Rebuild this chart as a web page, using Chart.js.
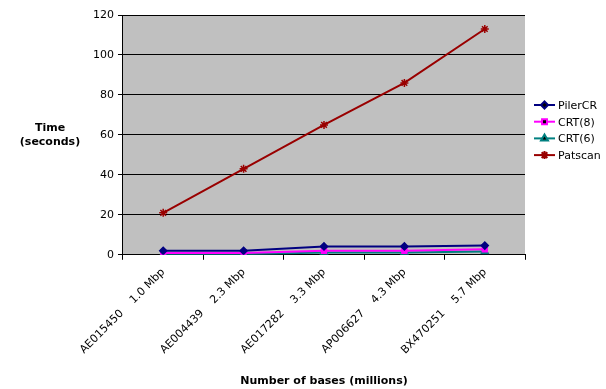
<!DOCTYPE html>
<html>
<head>
<meta charset="utf-8">
<script src="https://cdn.jsdelivr.net/npm/chart.js@4"></script>
<style>
  html, body { margin: 0; padding: 0; background: #fff; }
  #wrap { width: 606px; height: 389px; }
</style>
</head>
<body>
<div id="wrap"><canvas id="grafico" width="606" height="389"></canvas></div>
<script>
// datos
var genomas = ['AE015450    1.0 Mbp', 'AE004439    2.3 Mbp', 'AE017282    3.3 Mbp', 'AP006627    4.3 Mbp', 'BX470251    5.7 Mbp'];
var pilerCR = [2.0, 2.0, 4.2, 4.2, 4.6];
var crt8 = [0.9, 0.9, 2.0, 2.0, 2.8];
var crt6 = [0.3, 0.3, 1.2, 1.2, 1.6];
var patscan = [21, 43, 65, 86, 113];
var ticksY = [0, 20, 40, 60, 80, 100, 120];

var fuente = 'Verdana, "DejaVu Sans", sans-serif';

// fondo gris del area de trazado
var fondoPlugin = {
    id: 'fondo',
    beforeDraw: function (chart) {
        var a = chart.chartArea;
        var ctx = chart.ctx;
        ctx.save();
        ctx.fillStyle = '#c0c0c0';
        ctx.fillRect(a.left, a.top, a.right - a.left, a.bottom - a.top);
        ctx.restore();
    }
};

// titulo del eje y horizontal y leyenda con linea + marcador
var textosPlugin = {
    id: 'textos',
    afterDraw: function (chart) {
        var ctx = chart.ctx;
        var a = chart.chartArea;
        ctx.save();
        ctx.fillStyle = '#000';
        ctx.font = 'bold 11px ' + fuente;
        ctx.textAlign = 'center';
        ctx.textBaseline = 'middle';
        ctx.fillText('Time', 50, 128);
        ctx.fillText('(seconds)', 50, 142);

        // leyenda
        var x0 = a.right + 9;
        var y0 = 105;
        chart.data.datasets.forEach(function (ds, i) {
            var y = y0 + i * 16.7;
            ctx.strokeStyle = ds.borderColor;
            ctx.lineWidth = 2;
            ctx.beginPath();
            ctx.moveTo(x0, y);
            ctx.lineTo(x0 + 21, y);
            ctx.stroke();
            Chart.helpers.drawPoint(ctx, {
                pointStyle: ds.pointStyle,
                radius: ds.pointRadius,
                borderWidth: 1.5
            }, x0 + 10.5, y);
            ctx.fillStyle = '#000';
            ctx.font = '11px ' + fuente;
            ctx.textAlign = 'left';
            ctx.fillText(ds.label, x0 + 24, y + 1);
        });
        ctx.restore();
    }
};

function serie(label, data, color, estilo, radio) {
    return {
        label: label,
        data: data,
        borderColor: color,
        backgroundColor: color,
        pointBackgroundColor: color,
        pointBorderColor: color,
        pointStyle: estilo,
        pointRadius: radio,
        pointBorderWidth: 1.5,
        borderWidth: 2,
        fill: false,
        tension: 0
    };
}

new Chart(document.getElementById('grafico').getContext('2d'), {
    type: 'line',
    data: {
        labels: genomas,
        datasets: [
            serie('PilerCR', pilerCR, '#000080', 'rectRot', 3.5),
            serie('CRT(8)', crt8, '#ff00ff', 'rect', 3.5),
            serie('CRT(6)', crt6, '#008080', 'triangle', 4),
            serie('Patscan', patscan, '#990000', 'star', 4)
        ]
    },
    options: {
        responsive: false,
        animation: false,
        layout: { padding: { left: 89, right: 81, top: 15, bottom: 1 } },
        plugins: {
            legend: { display: false },
            tooltip: { enabled: false }
        },
        scales: {
            x: {
                offset: true,
                grid: {
                    offset: true,
                    drawOnChartArea: false,
                    color: '#000',
                    tickLength: 5
                },
                border: { color: '#000', width: 1 },
                ticks: {
                    color: '#000',
                    font: { family: fuente, size: 11 },
                    maxRotation: 45,
                    minRotation: 45,
                    autoSkip: false,
                    padding: 6
                },
                title: {
                    display: true,
                    text: 'Number of bases (millions)',
                    color: '#000',
                    font: { family: fuente, size: 11, weight: 'bold' },
                    padding: { top: 12, bottom: 0 }
                }
            },
            y: {
                min: 0,
                max: 120,
                afterBuildTicks: function (axis) {
                    axis.ticks = ticksY.map(function (v) { return { value: v }; });
                },
                grid: {
                    color: '#000',
                    lineWidth: 1,
                    tickLength: 5
                },
                border: { color: '#000', width: 1 },
                ticks: {
                    color: '#000',
                    font: { family: fuente, size: 11 },
                    padding: 4
                }
            }
        }
    },
    plugins: [fondoPlugin, textosPlugin]
});
</script>
</body>
</html>
